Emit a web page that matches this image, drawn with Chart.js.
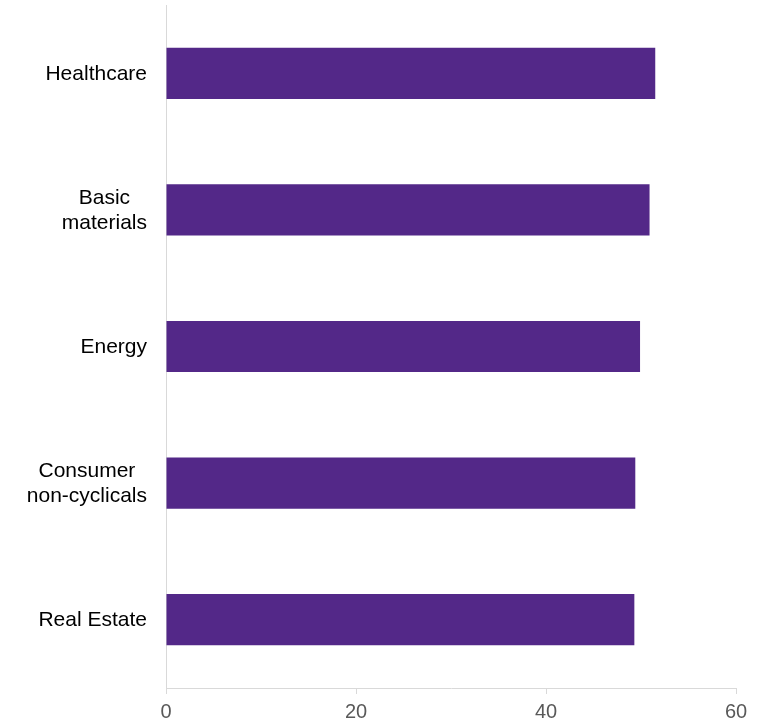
<!DOCTYPE html>
<html>
<head>
<meta charset="utf-8">
<script src="https://cdn.jsdelivr.net/npm/chart.js@4/dist/chart.umd.min.js"></script>
<style>
  html, body { margin: 0; padding: 0; background: #ffffff; }
  #wrap { width: 774px; height: 719px; position: relative; }
</style>
</head>
<body>
<div id="wrap"><canvas id="c"></canvas></div>
<script>
// Sector names (each entry is the list of lines shown for that sector)
const sectors = [
  ['Healthcare'],
  ['Basic', 'materials'],
  ['Energy'],
  ['Consumer', 'non-cyclicals'],
  ['Real Estate']
];
// Score per sector
const scores = [51.5, 50.9, 49.9, 49.4, 49.3];
// Value-axis ticks
const xTicks = [0, 20, 40, 60];

const barColor = '#532888';
const axisColor = '#d9d9d9';
const fontFamily = '"Liberation Sans", Arial, sans-serif';
const labelFont = '21px ' + fontFamily;

// Draws the multi-line category labels, each block right-aligned with lines centred
const categoryLabels = {
  id: 'categoryLabels',
  afterDraw(chart) {
    const ctx = chart.ctx;
    const yScale = chart.scales.y;
    const rightEdge = yScale.right - 19;
    const lineH = 25;
    ctx.save();
    ctx.font = labelFont;
    ctx.fillStyle = '#000000';
    ctx.textAlign = 'center';
    ctx.textBaseline = 'middle';
    sectors.forEach((lines, i) => {
      const yc = yScale.getPixelForTick(i) + 1;
      const maxW = Math.max(...lines.map(l => ctx.measureText(l).width));
      const cx = rightEdge - maxW / 2;
      lines.forEach((line, j) => {
        ctx.fillText(line, cx, yc + (j - (lines.length - 1) / 2) * lineH);
      });
    });
    ctx.restore();
  }
};

new Chart(document.getElementById('c'), {
  type: 'bar',
  data: {
    labels: sectors,
    datasets: [{
      data: scores,
      backgroundColor: barColor,
      borderWidth: 0,
      barPercentage: 0.75,
      categoryPercentage: 0.5
    }]
  },
  options: {
    indexAxis: 'y',
    responsive: true,
    maintainAspectRatio: false,
    animation: false,
    layout: { padding: { top: 5, right: 38, left: 0, bottom: 0 } },
    plugins: {
      legend: { display: false },
      tooltip: { enabled: false }
    },
    scales: {
      x: {
        min: 0,
        max: 60,
        afterBuildTicks(scale) {
          scale.ticks = xTicks.map(v => ({ value: v }));
        },
        afterFit(scale) { scale.height = 31; },
        grid: {
          display: true,
          drawOnChartArea: false,
          drawTicks: true,
          tickLength: 6,
          color: axisColor
        },
        border: { display: true, color: axisColor, width: 1 },
        ticks: {
          color: '#595959',
          padding: 6,
          maxRotation: 0,
          font: { family: fontFamily, size: 20 }
        }
      },
      y: {
        grid: { display: false },
        border: { display: true, color: axisColor, width: 1 },
        ticks: { display: false },
        afterFit(scale) { scale.width = 166; }
      }
    }
  },
  plugins: [categoryLabels]
});
</script>
</body>
</html>
